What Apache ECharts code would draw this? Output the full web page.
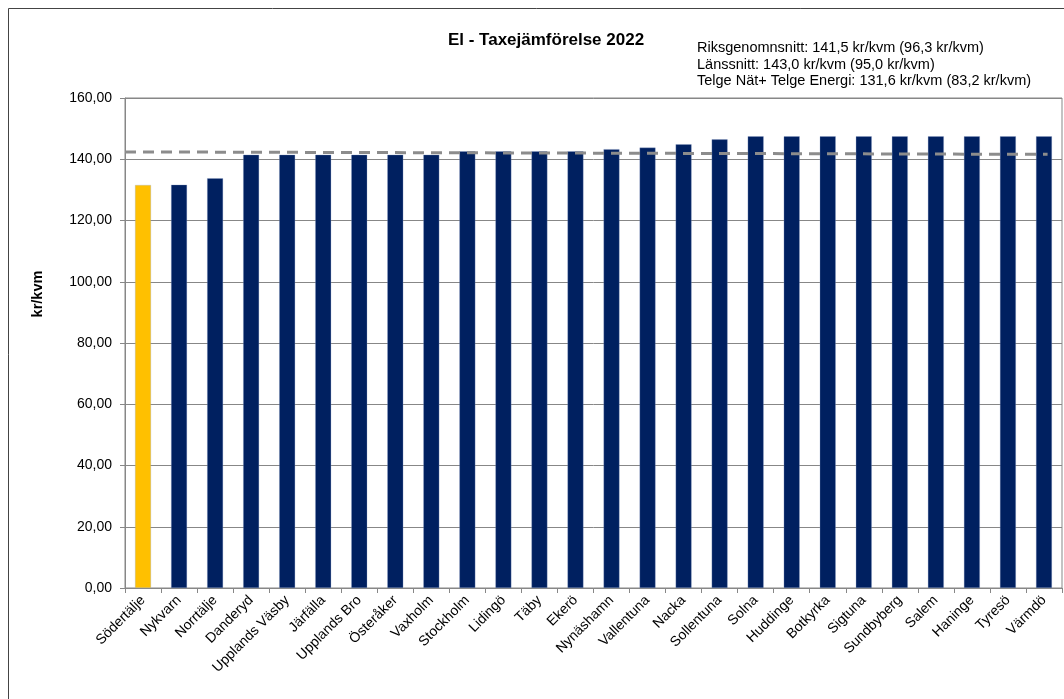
<!DOCTYPE html>
<html>
<head>
<meta charset="utf-8">
<script src="https://cdn.jsdelivr.net/npm/echarts@6/dist/echarts.min.js"></script>
<style>
html,body{margin:0;padding:0;background:#fff;}
#c{width:1064px;height:699px;}
</style>
</head>
<body>
<div id="c"></div>
<script>
const categories = ['Södertälje','Nykvarn','Norrtälje','Danderyd','Upplands Väsby','Järfälla','Upplands Bro','Österåker','Vaxholm','Stockholm','Lidingö','Täby','Ekerö','Nynäshamn','Vallentuna','Nacka','Sollentuna','Solna','Huddinge','Botkyrka','Sigtuna','Sundbyberg','Salem','Haninge','Tyresö','Värmdö'];
const values = [131.6,131.7,133.8,141.5,141.5,141.5,141.5,141.5,141.5,142.6,142.6,142.6,142.6,143.3,143.8,144.9,146.5,147.5,147.5,147.5,147.5,147.5,147.5,147.5,147.5,147.5];
const highlight = 'Södertälje';
const avgLine = [[0,142.4],[25.6,141.6]];
const yTicks = [0,20,40,60,80,100,120,140,160];
const titleText = 'El - Taxejämförelse 2022';
const noteLines = ['Riksgenomnsnitt: 141,5 kr/kvm (96,3 kr/kvm)','Länssnitt: 143,0 kr/kvm (95,0 kr/kvm)','Telge Nät+ Telge Energi: 131,6 kr/kvm (83,2 kr/kvm)'];
const yName = 'kr/kvm';

const chart = echarts.init(document.getElementById('c'), null, {renderer:'canvas'});
const font = 'Arial, "Liberation Sans", sans-serif';
const gridColor = '#878787';
chart.setOption({
  animation:false,
  textStyle:{fontFamily:font},
  grid:{left:125,right:2,top:98,bottom:111,show:true,borderColor:gridColor,borderWidth:1},
  graphic:[
    {type:'rect',shape:{x:8.5,y:8.5,width:1200,height:900},style:{fill:'none',stroke:'#444',lineWidth:1},silent:true,z:-1},
    {type:'text',x:546,y:40,style:{text:titleText,font:'bold 17px '+font,fill:'#000',align:'center',verticalAlign:'middle'}},
    {type:'text',left:697,top:40,style:{text:noteLines.join('\n'),font:'14.5px '+font,lineHeight:16.5,fill:'#000'}},
    {type:'text',x:38,y:294,rotation:Math.PI/2,style:{text:yName,font:'bold 14.5px '+font,fill:'#000',align:'center',verticalAlign:'middle'}}
  ],
  xAxis:[{
    type:'category',data:categories,
    axisLine:{lineStyle:{color:gridColor,width:1}},
    axisTick:{show:true,length:5,lineStyle:{color:gridColor}},
    axisLabel:{rotate:45,interval:0,margin:10,fontSize:14,color:'#000',fontFamily:font}
  },{
    type:'value',min:0,max:26,show:false
  }],
  yAxis:{
    type:'value',min:0,max:160,interval:20,
    axisLine:{show:true,lineStyle:{color:gridColor}},
    axisTick:{show:true,length:5,lineStyle:{color:gridColor}},
    splitLine:{lineStyle:{color:gridColor,width:1}},
    axisLabel:{margin:13,fontSize:14,color:'#000',fontFamily:font,
      formatter:v=>v.toFixed(2).replace('.',',')}
  },
  series:[{
    type:'bar',barWidth:16,
    data:values.map((v,i)=>({value:v,itemStyle:{color:categories[i]===highlight?'#FFC000':'#002060'}})),
    itemStyle:{borderColor:'rgba(140,160,200,0.6)',borderWidth:0.5}
  },{
    type:'line',xAxisIndex:1,data:avgLine,symbol:'none',
    lineStyle:{color:'#8c8c8c',width:3,type:[11,7]},z:5
  }]
});
</script>
</body>
</html>
